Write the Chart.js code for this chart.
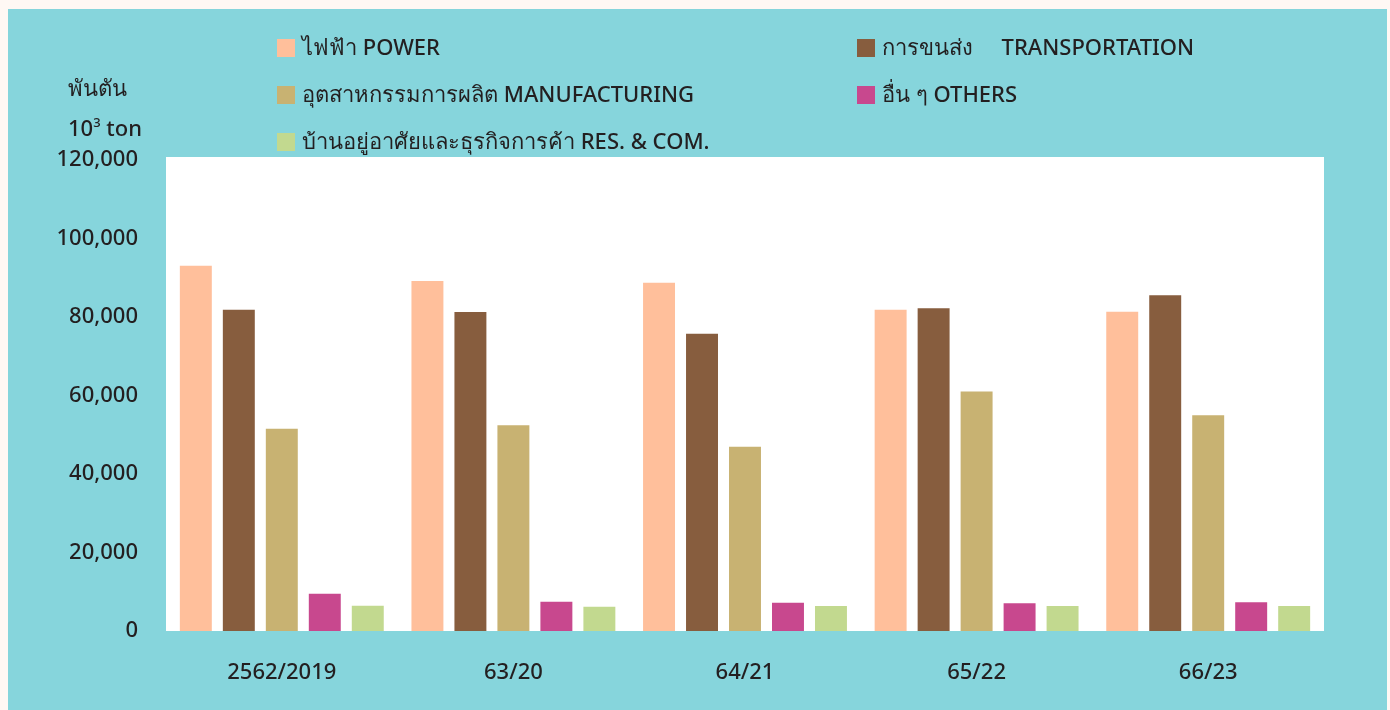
<!DOCTYPE html>
<html>
<head>
<meta charset="utf-8">
<script src="https://cdn.jsdelivr.net/npm/chart.js@4"></script>
<style>
  html, body { margin: 0; padding: 0; background: #fff8f4; }
  body { width: 1390px; height: 710px; position: relative; overflow: hidden; font-family: "Noto Sans", sans-serif; color: #231f20; }
  #panel { position: absolute; left: 8px; top: 9px; width: 1379px; height: 701px; background: #86d5dc; }
  #panel canvas { position: absolute; left: 0; top: 0; }
  .unit { position: absolute; font-size: 22px; line-height: 1; font-weight: 500; }
  .unit sup { font-size: 13px; vertical-align: 9px; }
  .leg { position: absolute; font-size: 22px; line-height: 1; white-space: pre; font-weight: 500; }
  .leg i { display: inline-block; width: 18px; height: 18px; vertical-align: -2px; margin-right: 7px; }
</style>
</head>
<body>
<div id="panel">
  <canvas id="myChart" width="1379" height="701"></canvas>
</div>
<div class="unit" style="left:68px; top:76px;">พันตัน</div>
<div class="unit" style="left:68px; top:116px;">10<sup>3</sup> ton</div>
<div id="legend"></div>
<script>
const years = ['2562/2019', '63/20', '64/21', '65/22', '66/23'];

const power = [93300, 89400, 89000, 82100, 81600];
const transport = [82100, 81500, 76000, 82500, 85800];
const manufacturing = [51800, 52700, 47200, 61300, 55200];
const others = [9750, 7700, 7450, 7300, 7550];
const resCom = [6700, 6450, 6600, 6600, 6600];

const seriesNames = [
  'ไฟฟ้า POWER',
  'การขนส่ง     TRANSPORTATION',
  'อุตสาหกรรมการผลิต MANUFACTURING',
  'อื่น ๆ OTHERS',
  'บ้านอยู่อาศัยและธุรกิจการค้า RES. & COM.'
];
const seriesColors = ['#ffbf9b', '#875d3e', '#c8b272', '#c8488e', '#c2d98f'];

const yTicks = [0, 20000, 40000, 60000, 80000, 100000, 120000];

// white plot background
const plotBg = {
  id: 'plotBg',
  beforeDraw(chart) {
    const a = chart.chartArea;
    const c = chart.ctx;
    c.save();
    c.fillStyle = '#ffffff';
    c.fillRect(a.left, a.top - 3, a.right - a.left, a.bottom - a.top + 3);
    c.restore();
  }
};

const ctx = document.getElementById('myChart').getContext('2d');

const config = {
  type: 'bar',
  data: {
    labels: years,
    datasets: [power, transport, manufacturing, others, resCom].map((d, i) => ({
      label: seriesNames[i],
      data: d,
      backgroundColor: seriesColors[i],
      borderColor: 'rgba(255,255,255,0.45)',
      borderWidth: 1,
      categoryPercentage: 0.928,
      barPercentage: 0.79
    }))
  },
  options: {
    responsive: false,
    animation: false,
    layout: { padding: { left: 0, right: 63, top: 151, bottom: 0 } },
    plugins: {
      legend: { display: false },
      tooltip: { enabled: false }
    },
    scales: {
      x: {
        grid: { display: false },
        border: { display: false },
        ticks: {
          color: '#231f20',
          font: { family: 'Noto Sans', size: 22, weight: '500' },
          padding: 21
        },
        afterFit(scale) { scale.height = 79; }
      },
      y: {
        min: 0,
        max: 120000,
        grid: { display: false },
        border: { display: false },
        afterBuildTicks(scale) { scale.ticks = yTicks.map(v => ({ value: v })); },
        ticks: {
          color: '#231f20',
          font: { family: 'Noto Sans', size: 22, weight: '500' },
          padding: 20,
          callback: v => v.toLocaleString('en-US')
        },
        afterFit(scale) { scale.width = 158; }
      }
    }
  },
  plugins: [plotBg]
};

new Chart(ctx, config);

// two-column legend: left column power, manufacturing, res/com; right column transport, others
const legendPos = [
  [277, 36], [857, 36],
  [277, 83], [857, 83],
  [277, 130]
];
const legendEl = document.getElementById('legend');
seriesNames.forEach((name, k) => {
  const d = document.createElement('div');
  d.className = 'leg';
  d.style.left = legendPos[k][0] + 'px';
  d.style.top = (legendPos[k][1] - 1) + 'px';
  const box = document.createElement('i');
  box.style.background = seriesColors[k];
  d.appendChild(box);
  d.appendChild(document.createTextNode(name));
  legendEl.appendChild(d);
});
</script>
</body>
</html>
